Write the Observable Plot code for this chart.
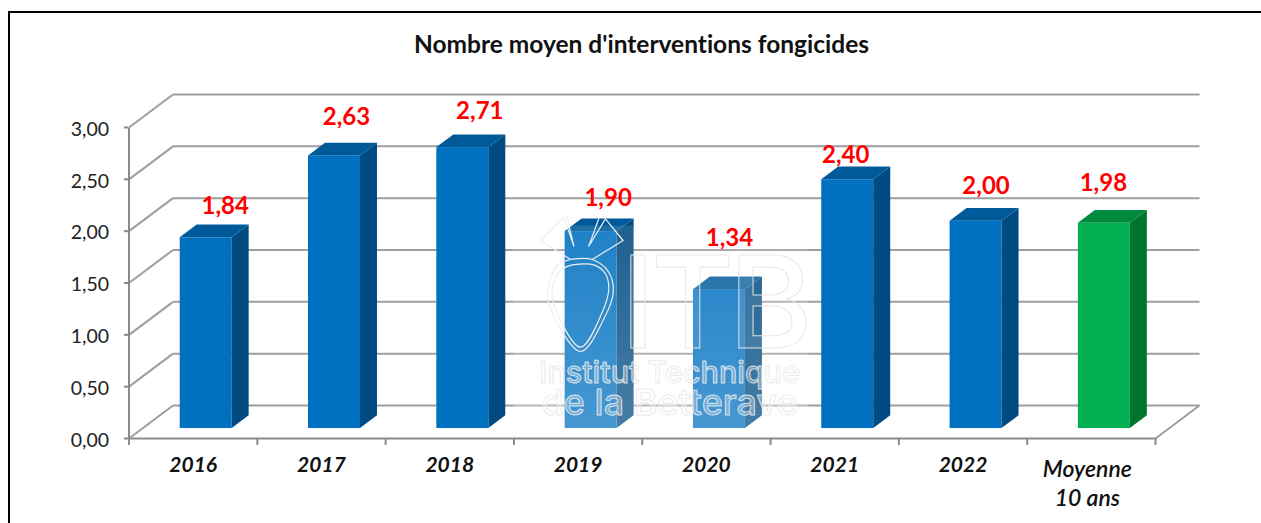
<!DOCTYPE html>
<html lang="fr"><head><meta charset="utf-8">
<script src="https://cdn.jsdelivr.net/npm/d3@7"></script>
<script src="https://cdn.jsdelivr.net/npm/@observablehq/plot@0.6"></script>
<style>
html,body{margin:0;padding:0;background:#fff;overflow:hidden;width:1261px;height:523px}
#frame{margin:11px 0 0 8px;border-left:2px solid #000;border-top:2px solid #000;height:510px;width:1251px}
#title{height:61px;text-align:center;font:bold 24.5px/62px Lato,sans-serif;color:#111;font-variant-ligatures:none;margin-right:-2px;margin-left:-10px;padding-left:20px;box-sizing:content-box}
svg{display:block}
</style></head><body>
<div id="frame"><div id="title">Nombre moyen d'interventions fongicides</div><div id="chart"></div></div>
<script>
const categories = ["2016","2017","2018","2019","2020","2021","2022"];
const averageLabel = ["Moyenne\n10 ans"];
const values = [1.84,2.63,2.71,1.90,1.34,2.40,2.00,1.98];
const yTicks = [0,0.5,1,1.5,2,2.5,3];
const frontColors = ["#0070c0","#0070c0","#0070c0","#0070c0","#0070c0","#0070c0","#0070c0","#00b050"];
const sideColors = ["#004b82","#004b82","#004b82","#004b82","#004b82","#004b82","#004b82","#00752f"];
const topColors = ["#005a9a","#005a9a","#005a9a","#005a9a","#005a9a","#005a9a","#005a9a","#008a3e"];
// hand-placed label shifts, in pixels
const labelShiftX = [19,12,17,17,10,-2,10,-1];
const labelShiftY = [31,39,36,33,51,24,35,40];
// watermark outlines and letters, in chart units
const logoDropId = [0,0,0,0,0,0,0,0,0,0, 1,1,1,1,1,1,1,1,1,1];
const logoDropX = [3.441,3.337,3.259,3.285,3.519,3.701,3.774,3.739,3.610,3.441, 3.454,3.623,3.713,3.739,3.688,3.519,3.324,3.298,3.363,3.454];
const logoDropY = [1.727,1.669,1.411,1.251,0.839,1.155,1.411,1.604,1.727,1.727, 1.675,1.675,1.589,1.444,1.218,0.881,1.251,1.428,1.621,1.675];
const logoCrownX = [3.610,3.851,3.713,3.583,3.661,null,3.410,3.467,3.389,3.207,3.441];
const logoCrownY = [1.727,1.910,2.119,1.855,2.119,null,2.151,1.855,2.135,1.910,1.727];
const logoLetters = ["I","T","B"];
const logoLetterX = [3.967,4.392,4.999];

const pxX = 1/128.31, pxY = 1/103.67;   // one pixel in chart units
const wallX = 44*pxX, wallY = 33*pxY;
const barLeft = 0.399, barRight = 0.804, barBase = 0.096, depthX = 17*pxX, depthY = 12.7*pxY;
const n = values.length;
const bars = values.map((v,i)=>({i,v,L:i+barLeft,R:i+barRight,T:v+barBase,B:barBase,
  front:frontColors[i],side:sideColors[i],top:topColors[i]}));
const sides = bars.flatMap(b=>[
  {z:b.i,x:b.R,y1:b.B,y2:b.T,fill:b.side},
  {z:b.i,x:b.R+depthX,y1:b.B+depthY,y2:b.T+depthY,fill:b.side}]);
const tops = bars.flatMap(b=>[
  {z:b.i,x:b.L,y1:b.T,y2:b.T,fill:b.top},
  {z:b.i,x:b.L+depthX,y1:b.T,y2:b.T+depthY,fill:b.top},
  {z:b.i,x:b.R,y1:b.T,y2:b.T+depthY,fill:b.top},
  {z:b.i,x:b.R+depthX,y1:b.T+depthY,y2:b.T+depthY,fill:b.top}]);
const fr = d3.format(".2f");
const comma = v=>fr(v).replace(".",",");
const grey = "#9e9e9e";
const idx = logoDropX.map((_,i)=>i);
const crown = logoCrownX.map((x,i)=>({x,y:logoCrownY[i]}));

const defs = () => {
  const s = d3.create("svg:defs");
  const g = s.append("linearGradient").attr("id","wash").attr("x1",0).attr("x2",0).attr("y1",0).attr("y2",1);
  g.append("stop").attr("offset","0").attr("stop-color","#fff").attr("stop-opacity",0.12);
  g.append("stop").attr("offset","1").attr("stop-color","#fff").attr("stop-opacity",0.28);
  return s.node();
};

const wmStyle = {fontFamily:"Inter, sans-serif",fill:"#fff",fillOpacity:0.28,stroke:"#e6e6e6",strokeOpacity:0.9,strokeWidth:1};

const chart = Plot.plot({
  width:1251,height:449,
  marginLeft:118,marginRight:106,marginTop:53,marginBottom:85,
  style:{fontFamily:"Lato, sans-serif",background:"transparent",overflow:"visible"},
  x:{domain:[0,n],range:[118.5,1145],axis:null},
  y:{domain:[0,3],range:[364,53],axis:null},
  color:{type:"identity"},
  marks:[
    defs,
    // walls and floor
    Plot.link(yTicks,{x1:()=>0,y1:d=>d,x2:()=>wallX,y2:d=>d+wallY,stroke:grey,strokeWidth:2}),
    Plot.link(yTicks,{x1:()=>wallX,y1:d=>d+wallY,x2:()=>n+wallX,y2:d=>d+wallY,stroke:grey,strokeWidth:2}),
    Plot.link([0],{x1:()=>n,y1:()=>0,x2:()=>n+wallX,y2:()=>wallY,stroke:grey,strokeWidth:2}),
    // axes
    Plot.link([0],{x1:()=>0,y1:()=>0,x2:()=>n,y2:()=>0,stroke:"#8a8a8a",strokeWidth:2}),
    Plot.link([0],{x1:()=>0,y1:()=>0,x2:()=>0,y2:()=>3,stroke:"#8a8a8a",strokeWidth:2}),
    Plot.axisY({ticks:yTicks,tickFormat:()=>"",anchor:"left",tickSize:4,stroke:"#8a8a8a",strokeWidth:2,label:null}),
    Plot.axisX({ticks:d3.range(n+1),tickFormat:()=>"",anchor:"bottom",tickSize:7,stroke:"#8a8a8a",strokeWidth:2,label:null}),
    Plot.text(yTicks,{x:()=>0,y:d=>d,text:comma,textAnchor:"end",dx:-20,dy:2,fontSize:19.5,fill:"#222"}),
    // bars
    Plot.rect(bars,{x1:"L",x2:"R",y1:"B",y2:"T",fill:"front"}),
    Plot.areaY(sides,{x:"x",y1:"y1",y2:"y2",z:"z",fill:"fill"}),
    Plot.areaY(tops,{x:"x",y1:"y1",y2:"y2",z:"z",fill:"fill"}),
    // watermark
    Plot.rect([0],{x1:()=>3.0,x2:()=>5.3,y1:()=>0.06,y2:()=>2.05,fill:"url(#wash)"}),
    Plot.line(idx,{x:i=>logoDropX[i],y:i=>logoDropY[i],z:i=>logoDropId[i],curve:"catmull-rom",stroke:"#eee",strokeWidth:1.2}),
    Plot.line(crown,{x:"x",y:"y",stroke:"#eee",strokeWidth:1.2}),
    Plot.text(logoLetters,{x:(d,i)=>logoLetterX[i],y:()=>1.273,text:d=>d,...wmStyle,fontSize:128,fontWeight:500,fillOpacity:0.08}),
    Plot.text(["Institut Technique"],{x:()=>4.213,y:()=>0.627,text:d=>d,...wmStyle,fontSize:30.5,fontWeight:500}),
    Plot.text(["de la Betterave"],{x:()=>4.213,y:()=>0.338,text:d=>d,...wmStyle,fontSize:36,fontWeight:500}),
    // value labels
    Plot.text(bars,{x:d=>d.L+(d.R-d.L)/2+labelShiftX[d.i]*pxX,y:d=>d.T+labelShiftY[d.i]*pxY,text:d=>comma(d.v),fill:"#ff0000",fontSize:24,fontWeight:700}),
    // category labels
    Plot.text(categories,{x:(d,i)=>i+0.5,y:()=>0,text:d=>d,dy:19,lineAnchor:"top",fill:"#111",fontSize:21,fontWeight:700,fontStyle:"italic"}),
    Plot.text(averageLabel,{x:()=>n-0.5,y:()=>0,text:d=>d,dx:-4,dy:18,lineAnchor:"top",lineHeight:1.27,fill:"#111",fontSize:23,fontWeight:600,fontStyle:"italic"})
  ]
});
document.getElementById("chart").append(chart);
</script></body></html>
